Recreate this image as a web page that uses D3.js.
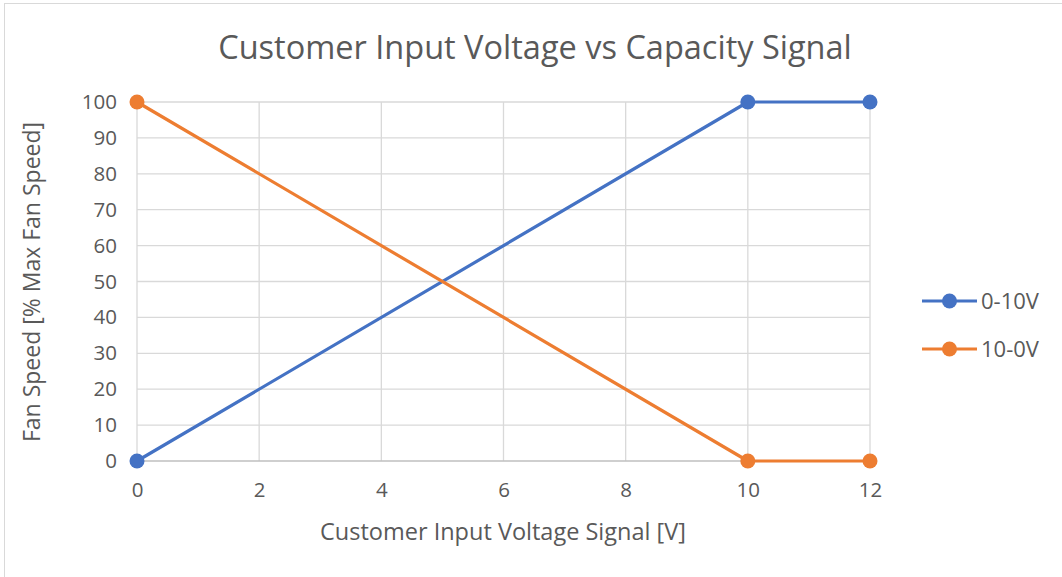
<!DOCTYPE html>
<html><head><meta charset="utf-8">
<script src="https://cdn.jsdelivr.net/npm/d3@7"></script>
<style>body{margin:0;background:#fff}svg{display:block}text{font-family:"Open Sans","Noto Sans",sans-serif;fill:#595959}</style>
</head><body>
<svg id="c" width="1062" height="577"></svg>
<script>
const xValues = [0, 10, 12];
const series1 = [0, 100, 100];
const series2 = [100, 0, 0];
const seriesNames = ["0-10V", "10-0V"];
const colors = ["#4472C4", "#ED7D31"];
const xTicks = [0, 2, 4, 6, 8, 10, 12];
const yTicks = [0, 10, 20, 30, 40, 50, 60, 70, 80, 90, 100];

const svg = d3.select("#c");
svg.append("rect").attr("x", 4.5).attr("y", 3.5).attr("width", 1060).attr("height", 580)
  .attr("fill", "#fff").attr("stroke", "#d9d9d9");

const x = d3.scaleLinear().domain([0, 12]).range([137, 870]);
const y = d3.scaleLinear().domain([0, 100]).range([461, 102]);

// grid
svg.append("g").selectAll("line.v").data(xTicks.filter(d => d > 0)).join("line")
  .attr("x1", d => x(d)).attr("x2", d => x(d)).attr("y1", y(0)).attr("y2", y(100))
  .attr("stroke", "#d9d9d9").attr("stroke-width", 1.3);
svg.append("g").selectAll("line.h").data(yTicks.filter(d => d > 0)).join("line")
  .attr("x1", x(0)).attr("x2", x(12)).attr("y1", d => y(d)).attr("y2", d => y(d))
  .attr("stroke", "#d9d9d9").attr("stroke-width", 1.3);
svg.append("line").attr("x1", x(0)).attr("x2", x(0)).attr("y1", y(0)).attr("y2", y(100))
  .attr("stroke", "#d9d9d9").attr("stroke-width", 1.3);
svg.append("line").attr("x1", x(0)).attr("x2", x(12)).attr("y1", y(0)).attr("y2", y(0))
  .attr("stroke", "#bfbfbf").attr("stroke-width", 1.3);

const ff = '"Open Sans","Noto Sans",sans-serif';
const xa = svg.append("g").attr("transform", `translate(0,${y(0)})`)
  .call(d3.axisBottom(x).tickValues(xTicks).tickSize(0).tickPadding(21));
xa.select(".domain").remove();
xa.selectAll("text").attr("font-size", 20.5).style("font-family", ff).attr("fill", "#595959");
const ya = svg.append("g").attr("transform", `translate(${x(0)},0)`)
  .call(d3.axisLeft(y).tickValues(yTicks).tickSize(0).tickPadding(20));
ya.select(".domain").remove();
ya.selectAll("text").attr("font-size", 20.5).style("font-family", ff).attr("fill", "#595959");

const data = [series1, series2];
const line = d3.line().x((d, i) => x(xValues[i])).y(d => y(d));
data.forEach((s, k) => {
  svg.append("path").datum(s).attr("d", line).attr("fill", "none")
    .attr("stroke", colors[k]).attr("stroke-width", 3.2).attr("stroke-linejoin", "round");
});
data.forEach((s, k) => {
  svg.append("g").selectAll("circle").data(s).join("circle")
    .attr("cx", (d, i) => x(xValues[i])).attr("cy", d => y(d)).attr("r", 7.5)
    .attr("fill", colors[k]);
});

svg.append("text").attr("x", 535).attr("y", 59).attr("text-anchor", "middle")
  .attr("font-size", 32.5).text("Customer Input Voltage vs Capacity Signal");
svg.append("text").attr("x", 503).attr("y", 540).attr("text-anchor", "middle")
  .attr("font-size", 23.5).text("Customer Input Voltage Signal [V]");
svg.append("text").attr("transform", "translate(40,282) rotate(-90)").attr("text-anchor", "middle")
  .attr("font-size", 23).text("Fan Speed [% Max Fan Speed]");

const leg = svg.append("g");
seriesNames.forEach((n, k) => {
  const ly = 301 + k * 48;
  leg.append("line").attr("x1", 922).attr("x2", 977).attr("y1", ly).attr("y2", ly)
    .attr("stroke", colors[k]).attr("stroke-width", 3.2);
  leg.append("circle").attr("cx", 949.5).attr("cy", ly).attr("r", 7.5).attr("fill", colors[k]);
  leg.append("text").attr("x", 981).attr("y", ly + 8).attr("font-size", 22).text(n);
});
</script>
</body></html>
